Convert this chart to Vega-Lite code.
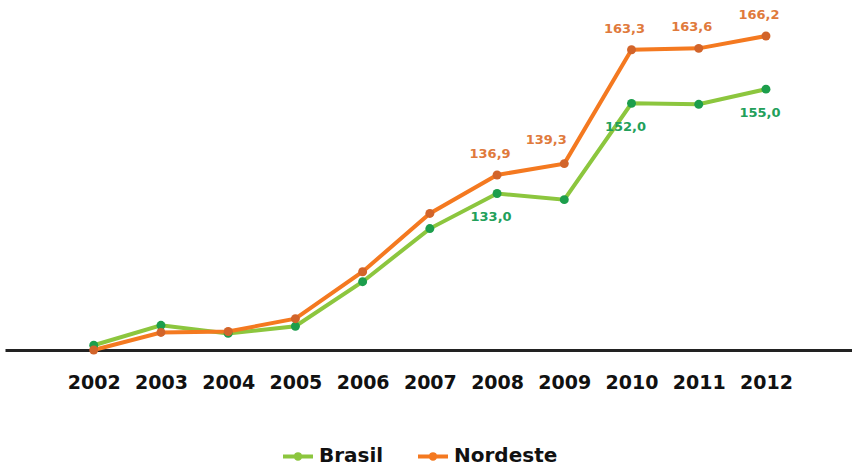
{
  "$schema": "https://vega.github.io/schema/vega-lite/v6.json",
  "width": 847,
  "height": 332,
  "autosize": {"type": "none"},
  "padding": {"left": 5, "top": 18, "right": 0, "bottom": 116},
  "background": "white",
  "config": {"view": {"stroke": null}, "font": "DejaVu Sans"},
  "data": {
    "values": [
      {"year": 2002, "series": "Brasil", "value": 101.0, "label": null},
      {"year": 2003, "series": "Brasil", "value": 105.2, "label": null},
      {"year": 2004, "series": "Brasil", "value": 103.5, "label": null},
      {"year": 2005, "series": "Brasil", "value": 105.0, "label": null},
      {"year": 2006, "series": "Brasil", "value": 114.4, "label": null},
      {"year": 2007, "series": "Brasil", "value": 125.6, "label": null},
      {"year": 2008, "series": "Brasil", "value": 133.0, "label": "133,0"},
      {"year": 2009, "series": "Brasil", "value": 131.7, "label": null},
      {"year": 2010, "series": "Brasil", "value": 152.0, "label": "152,0"},
      {"year": 2011, "series": "Brasil", "value": 151.8, "label": null},
      {"year": 2012, "series": "Brasil", "value": 155.0, "label": "155,0"},
      {"year": 2002, "series": "Nordeste", "value": 100.0, "label": null},
      {"year": 2003, "series": "Nordeste", "value": 103.7, "label": null},
      {"year": 2004, "series": "Nordeste", "value": 103.9, "label": null},
      {"year": 2005, "series": "Nordeste", "value": 106.6, "label": null},
      {"year": 2006, "series": "Nordeste", "value": 116.5, "label": null},
      {"year": 2007, "series": "Nordeste", "value": 128.8, "label": null},
      {"year": 2008, "series": "Nordeste", "value": 136.9, "label": "136,9"},
      {"year": 2009, "series": "Nordeste", "value": 139.3, "label": "139,3"},
      {"year": 2010, "series": "Nordeste", "value": 163.3, "label": "163,3"},
      {"year": 2011, "series": "Nordeste", "value": 163.6, "label": "163,6"},
      {"year": 2012, "series": "Nordeste", "value": 166.2, "label": "166,2"}
    ]
  },
  "encoding": {
    "x": {
      "field": "year", "type": "quantitative",
      "scale": {"domain": [2000.68, 2013.28], "zero": false, "nice": false},
      "axis": {
        "title": null, "labelAngle": 0, "ticks": false, "grid": false, "format": "d",
        "values": [2002, 2003, 2004, 2005, 2006, 2007, 2008, 2009, 2010, 2011, 2012],
        "domainColor": "#222222", "domainWidth": 3,
        "labelFont": "DejaVu Sans", "labelFontWeight": "bold", "labelFontSize": 19,
        "labelColor": "#111111", "labelPadding": 23
      }
    },
    "y": {
      "field": "value", "type": "quantitative",
      "scale": {"domain": [100, 170], "zero": false, "nice": false},
      "axis": null
    }
  },
  "layer": [
    {
      "mark": {"type": "line", "strokeWidth": 4},
      "encoding": {
        "color": {
          "field": "series", "type": "nominal",
          "scale": {"domain": ["Brasil", "Nordeste"], "range": ["#8cc63e", "#f47920"]},
          "legend": {
            "title": null, "orient": "none", "direction": "horizontal",
            "legendX": 276, "legendY": 421,
            "symbolType": "M-1,0L1,0M-0.15,0A0.15,0.15 0 1,1 0.15,0A0.15,0.15 0 1,1 -0.15,0",
            "symbolSize": 900, "symbolStrokeWidth": 4,
            "labelFont": "DejaVu Sans", "labelFontWeight": "bold", "labelFontSize": 20,
            "labelColor": "#111111", "columnPadding": 26
          }
        }
      }
    },
    {
      "mark": {"type": "point", "filled": true, "size": 80, "opacity": 1},
      "encoding": {
        "color": {
          "field": "series", "type": "nominal",
          "scale": {"domain": ["Brasil", "Nordeste"], "range": ["#1c9e4c", "#d2642a"]},
          "legend": null
        }
      }
    },
    {
      "transform": [{"filter": "datum.series == 'Nordeste' && datum.label != null && datum.year != 2009"}],
      "mark": {"type": "text", "dx": -7, "dy": -21, "fontSize": 13, "fontWeight": "bold", "color": "#e07a3c", "font": "DejaVu Sans"},
      "encoding": {"text": {"field": "label"}}
    },
    {
      "transform": [{"filter": "datum.series == 'Nordeste' && datum.year == 2009"}],
      "mark": {"type": "text", "dx": -18, "dy": -24, "fontSize": 13, "fontWeight": "bold", "color": "#e07a3c", "font": "DejaVu Sans"},
      "encoding": {"text": {"field": "label"}}
    },
    {
      "transform": [{"filter": "datum.series == 'Brasil' && datum.label != null"}],
      "mark": {"type": "text", "dx": -6, "dy": 24, "fontSize": 13, "fontWeight": "bold", "color": "#22a05a", "font": "DejaVu Sans"},
      "encoding": {"text": {"field": "label"}}
    }
  ],
  "resolve": {"scale": {"color": "independent"}}
}
